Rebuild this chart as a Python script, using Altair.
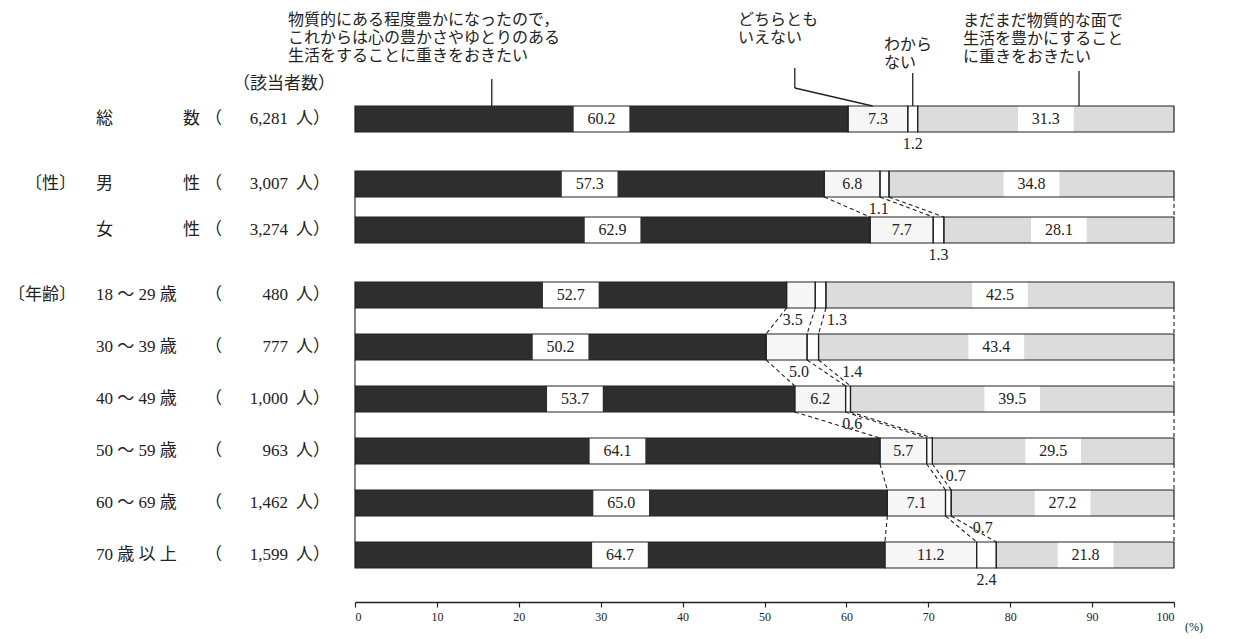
import altair as alt
import pandas as pd

# ---------------- data ----------------
row_names = ["総数", "男性", "女性", "18～29歳", "30～39歳", "40～49歳",
             "50～59歳", "60～69歳", "70歳以上"]
name_text = ["総", "男", "女", "18 ～ 29 歳", "30 ～ 39 歳", "40 ～ 49 歳",
             "50 ～ 59 歳", "60 ～ 69 歳", "70 歳 以 上"]
suffix_text = ["数", "性", "性", "", "", "", "", "", ""]
group_text = ["", "〔性〕", "", "〔年齢〕", "", "", "", "", ""]
counts = ["6,281", "3,007", "3,274", "480", "777", "1,000", "963", "1,462", "1,599"]

seg_keys = ["kokoro", "dochira", "wakaranai", "mono"]
kokoro = [60.2, 57.3, 62.9, 52.7, 50.2, 53.7, 64.1, 65.0, 64.7]
dochira = [7.3, 6.8, 7.7, 3.5, 5.0, 6.2, 5.7, 7.1, 11.2]
wakaranai = [1.2, 1.1, 1.3, 1.3, 1.4, 0.6, 0.7, 0.7, 2.4]
mono = [31.3, 34.8, 28.1, 42.5, 43.4, 39.5, 29.5, 27.2, 21.8]

header_1 = ["物質的にある程度豊かになったので，", "これからは心の豊かさやゆとりのある",
            "生活をすることに重きをおきたい"]
header_2 = ["どちらとも", "いえない"]
header_3 = ["わから", "ない"]
header_4 = ["まだまだ物質的な面で", "生活を豊かにすること", "に重きをおきたい"]
header_n = "（該当者数）"

total_rows = row_names[:1]
sex_rows = row_names[1:3]
age_rows = row_names[3:]

# label nudges (in % units) for labels placed under / between bars
nudge = {("男性", 2): -0.7, ("18～29歳", 1): -1.0, ("18～29歳", 2): 2.0,
         ("30～39歳", 1): 1.5, ("30～39歳", 2): 4.8, ("40～49歳", 2): 0.5,
         ("50～59歳", 2): 3.2, ("60～69歳", 2): 4.2}
outside_dochira = {"18～29歳", "30～39歳"}

# leader-line anchors (% positions on the 総数 bar)
leader_kokoro = 16.7
leader_dochira = (53.7, 63.2)
leader_wakaranai = 68.1
leader_mono = 88.4

# ---------------- tables ----------------
recs = []
vals = [kokoro, dochira, wakaranai, mono]
for i, r in enumerate(row_names):
    start = 0.0
    for k, key in enumerate(seg_keys):
        v = vals[k][i]
        end = start + v
        mid = (start + end) / 2
        if k == 2 or (k == 1 and r in outside_dochira):
            place = "below"
        else:
            place = "inside"
        recs.append(dict(row=r, seg=key, x0=start, x1=min(end, 100.0), mid=mid,
                         lx=mid + nudge.get((r, k), 0.0), label=f"{v:.1f}",
                         place=place, box=(k in (0, 3)),
                         bx0=mid - 3.4, bx1=mid + 3.4))
        start = end
seg_df = pd.DataFrame(recs)

row_df = pd.DataFrame(dict(row=row_names, name=name_text, suffix=suffix_text,
                           group=group_text, count=counts))

conn = []
for grp in (sex_rows, age_rows):
    for a, b in zip(grp[:-1], grp[1:]):
        ia, ib = row_names.index(a), row_names.index(b)
        ca = [0.0, kokoro[ia], kokoro[ia] + dochira[ia],
              kokoro[ia] + dochira[ia] + wakaranai[ia], 100.0]
        cb = [0.0, kokoro[ib], kokoro[ib] + dochira[ib],
              kokoro[ib] + dochira[ib] + wakaranai[ib], 100.0]
        for j in range(5):
            conn.append(dict(ra=a, rb=b, xa=ca[j], xb=cb[j],
                             kind="solid" if j == 0 else "dash"))
conn_df = pd.DataFrame(conn)

# ---------------- styling ----------------
SERIF = "Liberation Serif, Noto Sans CJK JP"
INK = "#222222"
colors = ["#2e2e2e", "#f6f6f6", "#ffffff", "#dcdcdc"]
W = 819
BAR = 26
PAD_TOP = 4


def xenc(field, axis=None):
    return alt.X(field, type="quantitative",
                 scale=alt.Scale(domain=[0, 100], nice=False, zero=True),
                 axis=axis)


def panel(rows, height, ys, axis=None, extra=()):
    Y = alt.Y("row:N", scale=ys, axis=None)
    sd = seg_df[seg_df.row.isin(rows)]
    rd = row_df[row_df.row.isin(rows)]

    layers = []
    layers.append(alt.Chart(sd).mark_bar(strokeWidth=0).encode(
        x=xenc("x0", axis), x2="x1:Q", y=Y,
        color=alt.Color("seg:N", scale=alt.Scale(domain=seg_keys, range=colors), legend=None)))
    layers.append(alt.Chart(sd[sd.box]).mark_rect(color="white").encode(
        x=xenc("bx0", axis), x2="bx1:Q", y=Y))
    layers.append(alt.Chart(sd).mark_bar(fillOpacity=0, stroke=INK, strokeWidth=1.2).encode(
        x=xenc("x0", axis), x2="x1:Q", y=Y))
    cd = conn_df[conn_df.ra.isin(rows)]
    if len(cd):
        layers.append(alt.Chart(cd).mark_rule(stroke=INK, strokeWidth=1.1).encode(
            x=xenc("xa", axis), x2="xb:Q",
            y=alt.Y("ra:N", scale=ys, axis=None, bandPosition=1),
            y2=alt.Y2("rb:N", bandPosition=0),
            strokeDash=alt.StrokeDash("kind:N", scale=alt.Scale(domain=["solid", "dash"],
                                                              range=[[1, 0], [4, 3]]), legend=None)))
    layers.append(alt.Chart(sd[sd.place == "inside"]).mark_text(
        font=SERIF, fontSize=16, color=INK).encode(x=xenc("mid", axis), y=Y, text="label:N"))
    layers.append(alt.Chart(sd[sd.place == "below"]).mark_text(
        font=SERIF, fontSize=16, color=INK, dy=12).encode(
        x=xenc("lx", axis), y=alt.Y("row:N", scale=ys, axis=None, bandPosition=1), text="label:N"))
    # left labels
    lab = dict(font=SERIF, fontSize=17, color=INK)
    if (rd.group != "").any():
        layers.append(alt.Chart(rd[rd.group != ""]).mark_text(align="right", **lab).encode(
            x=alt.value(-279), y=Y, text="group:N"))
    layers.append(alt.Chart(rd).mark_text(align="left", **lab).encode(
        x=alt.value(-259), y=Y, text="name:N"))
    if (rd.suffix != "").any():
        layers.append(alt.Chart(rd[rd.suffix != ""]).mark_text(align="left", **lab).encode(
            x=alt.value(-172), y=Y, text="suffix:N"))
    layers.append(alt.Chart(rd).mark_text(align="left", **lab).encode(
        x=alt.value(-150), y=Y, text=alt.value("（")))
    layers.append(alt.Chart(rd).mark_text(align="right", **lab).encode(
        x=alt.value(-67), y=Y, text="count:N"))
    layers.append(alt.Chart(rd).mark_text(align="left", **lab).encode(
        x=alt.value(-59), y=Y, text=alt.value("人）")))
    layers.extend(extra)
    return alt.layer(*layers).properties(width=W, height=height)


# header annotations (in the 総数 panel); panel top sits at page y = 8 + PAD_TOP
TOTAL_H = 123 - PAD_TOP
one = pd.DataFrame({"a": [0]})
hdr = dict(font=SERIF, fontSize=16, color=INK, align="left", baseline="middle")
header_layers = []
for lines, x0, y0 in ((header_1, -67, 19), (header_2, 383, 19), (header_3, 529, 44), (header_4, 608, 20)):
    for j, line in enumerate(lines):
        header_layers.append(alt.Chart(one).mark_text(**hdr).encode(
            x=alt.value(x0), y=alt.value(y0 - 8 - PAD_TOP + 18 * j), text=alt.value(line)))
header_layers.append(alt.Chart(one).mark_text(font=SERIF, fontSize=17, color=INK, align="left",
                                              baseline="middle").encode(
    x=alt.value(-122), y=alt.value(83 - 8 - PAD_TOP), text=alt.value(header_n)))

lead = pd.DataFrame({"k": [leader_kokoro], "d0": [leader_dochira[0]], "d1": [leader_dochira[1]],
                     "w": [leader_wakaranai], "m": [leader_mono]})
rule = dict(stroke=INK, strokeWidth=1.3)
bar_top = TOTAL_H - BAR
header_layers += [
    alt.Chart(lead).mark_rule(**rule).encode(x=xenc("k"), y=alt.value(78 - 8 - PAD_TOP), y2=alt.value(bar_top)),
    alt.Chart(lead).mark_rule(**rule).encode(x=xenc("d0"), y=alt.value(67 - 8 - PAD_TOP), y2=alt.value(87 - 8 - PAD_TOP)),
    alt.Chart(lead).mark_rule(**rule).encode(x=xenc("d0"), x2="d1:Q", y=alt.value(87 - 8 - PAD_TOP), y2=alt.value(bar_top)),
    alt.Chart(lead).mark_rule(**rule).encode(x=xenc("w"), y=alt.value(72 - 8 - PAD_TOP), y2=alt.value(bar_top)),
    alt.Chart(lead).mark_rule(**rule).encode(x=xenc("m"), y=alt.value(70 - 8 - PAD_TOP), y2=alt.value(bar_top)),
]

x_axis = alt.Axis(values=list(range(0, 101, 10)), offset=34, grid=False, title=None,
                  domainColor=INK, domainWidth=1.5, tickColor=INK, tickSize=5, tickWidth=1.2,
                  labelFont="Liberation Serif", labelFontSize=12, labelColor=INK, labelPadding=4)

pct = alt.Chart(one).mark_text(font="Liberation Serif", fontSize=12, color=INK, align="left").encode(
    x=alt.value(830), y=alt.value(345), text=alt.value("(%)"))

total_scale = alt.Scale(domain=total_rows, range=[TOTAL_H - BAR, TOTAL_H],
                        paddingInner=0, paddingOuter=0)
sex_scale = alt.Scale(domain=sex_rows, paddingInner=(46 - BAR) / 46, paddingOuter=0)
age_scale = alt.Scale(domain=age_rows, paddingInner=0.5, paddingOuter=0)

total_panel = panel(total_rows, TOTAL_H, total_scale, extra=header_layers)
sex_panel = panel(sex_rows, 72, sex_scale)
age_panel = panel(age_rows, 286, age_scale, axis=x_axis, extra=[pct])

chart = alt.vconcat(total_panel, sex_panel, age_panel, spacing=39, bounds="flush").properties(
    padding={"left": 0, "top": PAD_TOP, "right": 5, "bottom": 0}
).configure_view(stroke=None)

chart.save("out.html", embed_options={"renderer": "svg", "actions": False})
